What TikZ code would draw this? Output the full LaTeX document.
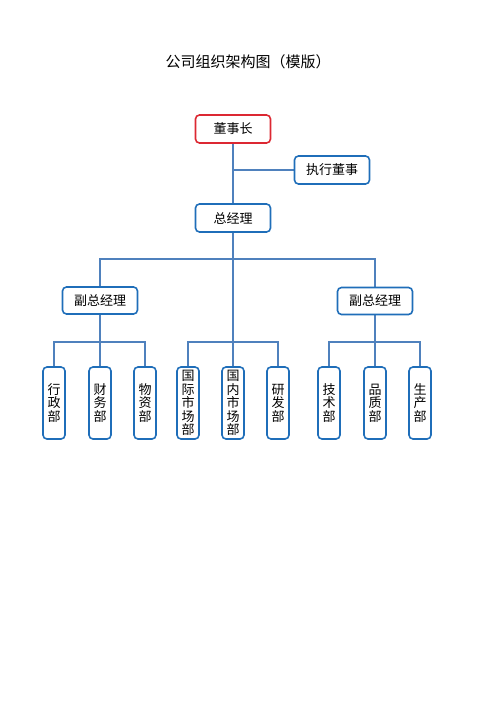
\documentclass[tikz,border=0pt]{standalone}
\usepackage{fontspec}
\usetikzlibrary{backgrounds}
\newfontfamily\cjk{Noto Sans CJK SC}
\definecolor{linkblue}{RGB}{79,129,189}
\definecolor{boxblue}{RGB}{31,110,185}
\definecolor{boxred}{RGB}{220,40,50}
\begin{document}
\begin{tikzpicture}[x=1pt,y=-1pt,
  every node/.style={font=\cjk\fontsize{13}{13.6}\selectfont},
  hbox/.style={draw=boxblue,line width=1.6pt,rounded corners=4pt,minimum width=75pt,minimum height=28pt,inner sep=0pt,fill=white},
  redbox/.style={hbox,draw=boxred},
  vbox/.style={draw=boxblue,line width=1.6pt,rounded corners=4pt,minimum width=22pt,minimum height=72pt,inner sep=0pt,align=center,fill=white},
  link/.style={draw=linkblue,line width=1.6pt}]
\useasboundingbox (0,0) rectangle (500,707);
\node[font=\cjk\fontsize{15}{16}\selectfont] (title) at (248,62) {公司组织架构图（模版）};
\node[redbox] (chair) at (233,129) {董事长};
\node[hbox] (exec) at (332,170) {执行董事};
\node[hbox] (gm) at (233,218) {总经理};
\node[hbox,minimum height=27pt] (vp1) at (100,300.5) {副总经理};
\node[hbox,minimum height=27pt] (vp2) at (375,301) {副总经理};
\node[vbox] (d1) at (54,403) {行\\政\\部};
\node[vbox] (d2) at (100,403) {财\\务\\部};
\node[vbox] (d3) at (145,403) {物\\资\\部};
\node[vbox] (d4) at (188,403) {国\\际\\市\\场\\部};
\node[vbox] (d5) at (233,403) {国\\内\\市\\场\\部};
\node[vbox] (d6) at (278,403) {研\\发\\部};
\node[vbox] (d7) at (329,403) {技\\术\\部};
\node[vbox] (d8) at (375,403) {品\\质\\部};
\node[vbox] (d9) at (420,403) {生\\产\\部};
\coordinate (h1) at (233,259);
\coordinate (b1) at (100,342);
\coordinate (b2) at (233,342);
\coordinate (b3) at (375,342);
\begin{scope}[on background layer]
\draw[link] (chair.south) -- (gm.north);
\draw[link] (chair.south |- exec.west) -- (exec.west);
\draw[link] (gm.south) -- (d5.north);
\draw[link] (vp1.north) |- (h1) -| (vp2.north);
\draw[link] (vp1.south) -- (d2.north);
\draw[link] (vp2.south) -- (d8.north);
\draw[link] (d1.north) |- (b1) -| (d3.north);
\draw[link] (d4.north) |- (b2) -| (d6.north);
\draw[link] (d7.north) |- (b3) -| (d9.north);
\end{scope}
\end{tikzpicture}
\end{document}
